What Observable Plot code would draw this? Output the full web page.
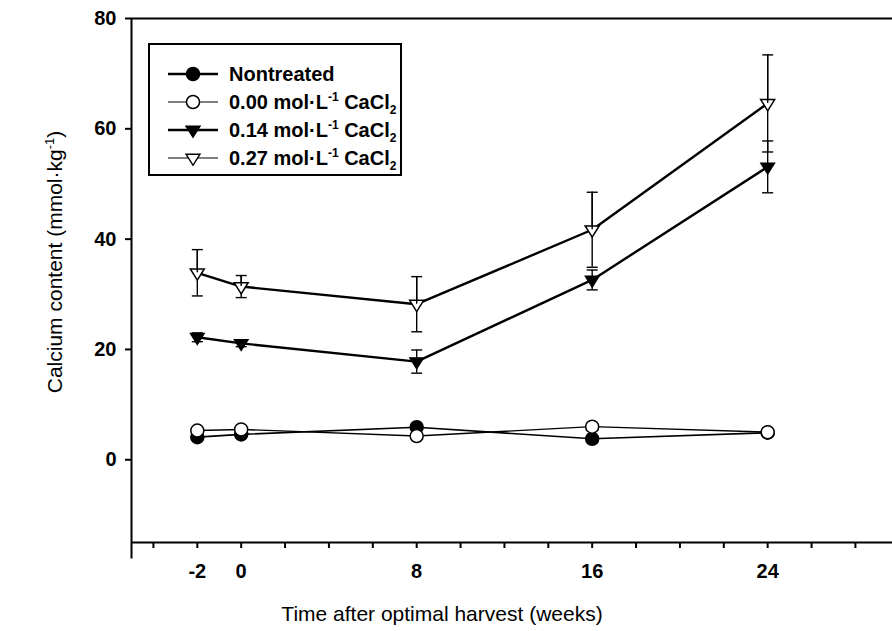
<!DOCTYPE html>
<html>
<head>
<meta charset="utf-8">
<script src="https://cdn.jsdelivr.net/npm/d3@7"></script>
<script src="https://cdn.jsdelivr.net/npm/@observablehq/plot@0.6"></script>
<style>
  html, body { margin: 0; padding: 0; background: #fff; }
  #wrap { position: relative; width: 892px; height: 631px; font-family: "Liberation Sans", Arial, sans-serif; }
  #legend { position: absolute; left: 148px; top: 43px; width: 254px; height: 133px; border: 2px solid #000; box-sizing: border-box; background: #fff; }
  .row { position: absolute; left: 0; height: 26px; display: flex; align-items: center; font-size: 20px; font-weight: bold; color: #000; white-space: nowrap; }
  .row svg { display: block; margin-left: 18px; margin-right: 11px; }
  sup, sub { font-size: 12px; line-height: 0; }
  .ttl { position: absolute; white-space: nowrap; font-size: 21px; color: #000; transform-origin: center center; }
  .ttl sup { font-size: 13px; }
</style>
</head>
<body>
<div id="wrap"></div>
<script>
// ---- data ----
const weeks = [-2, 0, 8, 16, 24];
const nontreated = [4.1, 4.6, 5.9, 3.8, 4.9];
const cacl000 = [5.3, 5.5, 4.3, 6.0, 5.0];
const cacl014 = [22.2, 21.1, 17.8, 32.6, 53.1];
const cacl014Err = [0.8, 0.6, 2.1, 1.8, 4.7];
const cacl027 = [33.9, 31.4, 28.2, 41.7, 64.6];
const cacl027Err = [4.2, 2.0, 5.0, 6.8, 8.8];

const yTicks = [0, 20, 40, 60, 80];
const xTicks = [-4, -2, 0, 2, 4, 6, 8, 10, 12, 14, 16, 18, 20, 22, 24, 26, 28];
const xTickLabels = [-2, 0, 8, 16, 24];
const xTitle = "Time after optimal harvest (weeks)";
const yTitle = "Calcium content (mmol\u00B7kg<sup>-1</sup>)";

// ---- tables ----
const rows = (vals, errs) => weeks.map((w, i) => ({week: w, value: vals[i], err: errs ? errs[i] : 0}));
const dNon = rows(nontreated);
const d000 = rows(cacl000);
const d014 = rows(cacl014, cacl014Err);
const d027 = rows(cacl027, cacl027Err);

const triDown = {
  draw(ctx, size) {
    const r = Math.sqrt(size / Math.PI);
    ctx.moveTo(-r, -0.55 * r);
    ctx.lineTo(r, -0.55 * r);
    ctx.lineTo(0, 1.05 * r);
    ctx.closePath();
  }
};
const capSym = {
  draw(ctx, size) {
    const r = Math.sqrt(size / Math.PI);
    ctx.moveTo(-r, 0);
    ctx.lineTo(r, 0);
  }
};

const errMarks = (data) => [
  Plot.ruleX(data, {x: "week", y1: d => d.value - d.err, y2: d => d.value + d.err, stroke: "#000", strokeWidth: 1.4}),
  Plot.dot(data, {x: "week", y: d => d.value + d.err, symbol: capSym, r: 5.5, stroke: "#000", strokeWidth: 1.4}),
  Plot.dot(data, {x: "week", y: d => d.value - d.err, symbol: capSym, r: 5.5, stroke: "#000", strokeWidth: 1.4})
];

const chart = Plot.plot({
  width: 892,
  height: 631,
  marginTop: 18,
  marginLeft: 131,
  marginRight: 0,
  marginBottom: 89,
  style: {fontFamily: "'Liberation Sans', Arial, sans-serif", fontSize: "20px", fontWeight: "bold", color: "#000", background: "#fff"},
  x: {domain: [-5, 29.69], label: null},
  y: {domain: [-15, 80], label: null},
  marks: [
    Plot.axisY(yTicks, {tickSize: 6, tickPadding: 9, strokeWidth: 2, label: null}),
    Plot.axisX(xTicks, {tickSize: 6, tickPadding: 15, strokeWidth: 2, label: null,
      tickFormat: d => xTickLabels.includes(d) ? String(d) : ""}),
    Plot.frame({anchor: "top", strokeWidth: 2}),
    Plot.ruleY([-15], {strokeWidth: 2}),
    Plot.ruleX([-5], {y1: -18, y2: 80, strokeWidth: 2}),
    Plot.line(dNon, {x: "week", y: "value", stroke: "#000", strokeWidth: 1.6}),
    Plot.line(d000, {x: "week", y: "value", stroke: "#000", strokeWidth: 1.4}),
    Plot.line(d014, {x: "week", y: "value", stroke: "#000", strokeWidth: 2.4}),
    Plot.line(d027, {x: "week", y: "value", stroke: "#000", strokeWidth: 2.4}),
    Plot.dot(dNon, {x: "week", y: "value", r: 6.5, fill: "#000", stroke: "#000", strokeWidth: 1.5}),
    Plot.dot(d000, {x: "week", y: "value", r: 6.5, fill: "#fff", stroke: "#000", strokeWidth: 1.5}),
    ...errMarks(d014),
    ...errMarks(d027),
    Plot.dot(d014, {x: "week", y: "value", symbol: triDown, r: 7, fill: "#000", stroke: "#000", strokeWidth: 1.2}),
    Plot.dot(d027, {x: "week", y: "value", symbol: triDown, r: 7, fill: "#fff", stroke: "#000", strokeWidth: 1.5}),
    Plot.ruleX(d027, {x: "week", y1: "value", y2: d => d.value + d.err, stroke: "#000", strokeWidth: 1.4})
  ]
});
const wrap = document.getElementById("wrap");
wrap.appendChild(chart);

// ---- axis titles (HTML overlay, allows superscript) ----
const xt = document.createElement("div");
xt.className = "ttl";
xt.textContent = xTitle;
xt.style.left = "442px";
xt.style.top = "614px";
xt.style.transform = "translate(-50%, -50%)";
wrap.appendChild(xt);

const yt = document.createElement("div");
yt.className = "ttl";
yt.innerHTML = yTitle;
yt.style.left = "55px";
yt.style.top = "262px";
yt.style.transform = "translate(-50%, -50%) rotate(-90deg)";
wrap.appendChild(yt);

// ---- legend (HTML overlay, allows super/subscripts) ----
const legendItems = [
  {label: "Nontreated", sym: "circle", fill: "#000", lw: 2.6},
  {label: "0.00 mol\u00B7L<sup>-1</sup> CaCl<sub>2</sub>", sym: "circle", fill: "#fff", lw: 1.2},
  {label: "0.14 mol\u00B7L<sup>-1</sup> CaCl<sub>2</sub>", sym: "tri", fill: "#000", lw: 2.6},
  {label: "0.27 mol\u00B7L<sup>-1</sup> CaCl<sub>2</sub>", sym: "tri", fill: "#fff", lw: 1.2}
];
const legendRowY = [16, 44, 72, 100];
const lg = document.createElement("div");
lg.id = "legend";
legendItems.forEach((it, i) => {
  const r = document.createElement("div");
  r.className = "row";
  r.style.top = legendRowY[i] + "px";
  const shape = it.sym === "circle"
    ? `<circle cx="25" cy="13" r="6.5" fill="${it.fill}" stroke="#000" stroke-width="1.5"/>`
    : `<path d="M18,9.2 L32,9.2 L25,20.3 Z" fill="${it.fill}" stroke="#000" stroke-width="1.4"/>`;
  r.innerHTML = `<svg width="50" height="26"><line x1="0" y1="13" x2="50" y2="13" stroke="#000" stroke-width="${it.lw}"/>${shape}</svg><span>${it.label}</span>`;
  lg.appendChild(r);
});
wrap.appendChild(lg);
</script>
</body>
</html>
